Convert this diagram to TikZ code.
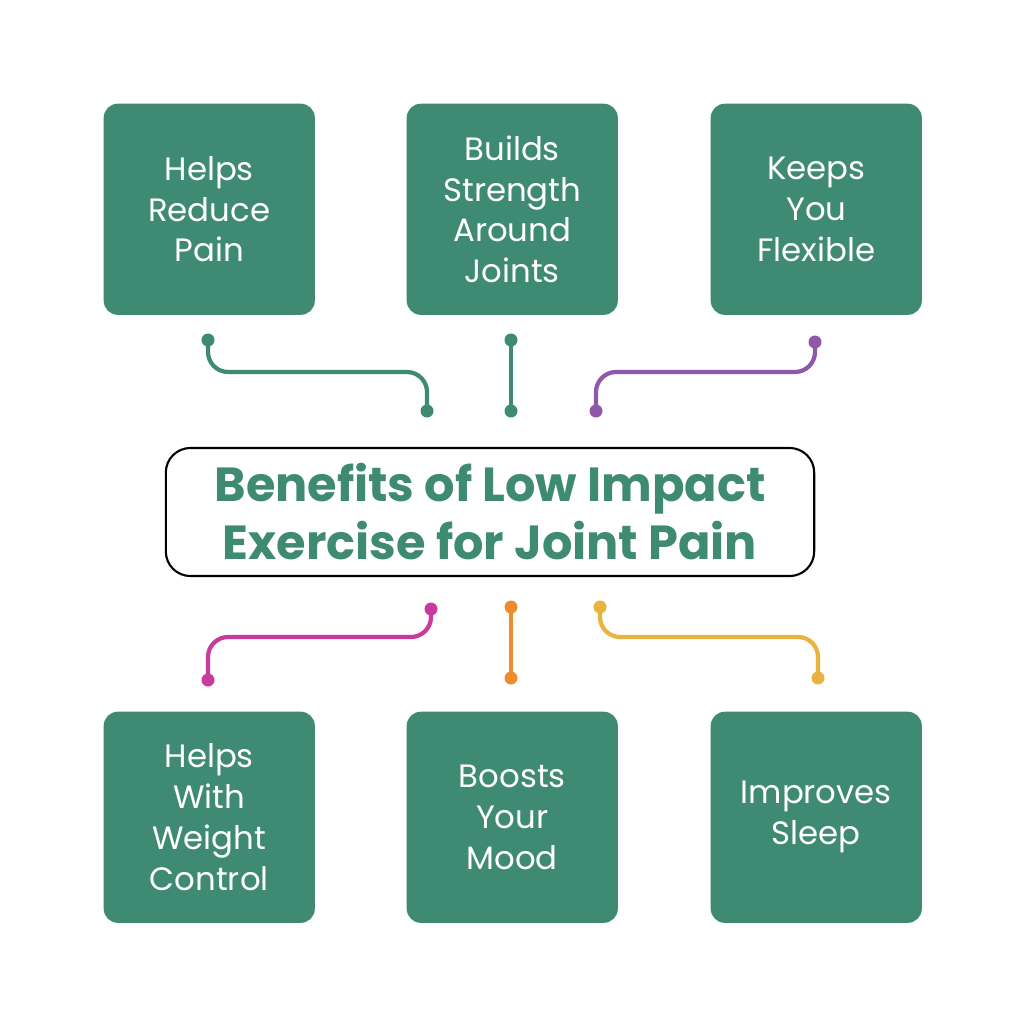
\documentclass[tikz,border=0pt]{standalone}
\usepackage{fontspec}
\setmainfont{Poppins}
\definecolor{gr}{HTML}{3E8A72}
\definecolor{pu}{HTML}{8E5AA8}
\definecolor{mg}{HTML}{C83A9C}
\definecolor{orr}{HTML}{EE8B2C}
\definecolor{ye}{HTML}{E8B441}
\begin{document}
\begin{tikzpicture}[x=0.01cm,y=-0.01cm,
 card/.style={fill=gr,rounded corners=4pt,minimum width=2.11cm,minimum height=2.11cm,text=white,align=center,font=\fontsize{9.2}{11.6}\selectfont,anchor=north west,inner sep=0pt},
 dt/.style={circle,fill=#1,inner sep=0pt,minimum size=0.13cm},
 ln/.style={draw=#1,line width=1.2pt,rounded corners=0.2cm}]
\fill[white] (0,0) rectangle (1024,1024);
\node[card] (a) at (103,103) {Helps\\Reduce\\Pain};
\node[card] (b) at (406,103) {Builds\\Strength\\Around\\Joints};
\node[card] (c) at (710,103) {Keeps\\You\\Flexible};
\node[card] (d) at (103,711) {Helps\\With\\Weight\\Control};
\node[card] (e) at (406,711) {Boosts\\Your\\Mood};
\node[card] (f) at (710,711) {Improves\\Sleep};
\node[draw=black,line width=0.6pt,rounded corners=7pt,minimum width=6.48cm,minimum height=1.28cm,text=gr,align=center,font=\bfseries\fontsize{13.6}{16.5}\selectfont] (t) at (490,512) {Benefits of Low Impact\\Exercise for Joint Pain};
\node[dt=gr] (a1) at (208,340) {}; \node[dt=gr] (a2) at (427,411) {};
\node[dt=gr] (b1) at (511,340) {}; \node[dt=gr] (b2) at (511,411) {};
\node[dt=pu] (c1) at (815,342) {}; \node[dt=pu] (c2) at (596,411) {};
\node[dt=mg] (d1) at (431,609) {}; \node[dt=mg] (d2) at (208,680) {};
\node[dt=orr] (e1) at (511,607) {}; \node[dt=orr] (e2) at (511,678) {};
\node[dt=ye] (f1) at (600,607) {}; \node[dt=ye] (f2) at (818,678) {};
\draw[ln=gr] (a1.center) |- (427,372) -- (a2.center);
\draw[ln=gr] (b1.center) -- (b2.center);
\draw[ln=pu] (c1.center) |- (596,372) -- (c2.center);
\draw[ln=mg] (d1.center) |- (208,637) -- (d2.center);
\draw[ln=orr] (e1.center) -- (e2.center);
\draw[ln=ye] (f1.center) |- (818,637) -- (f2.center);
\end{tikzpicture}
\end{document}
